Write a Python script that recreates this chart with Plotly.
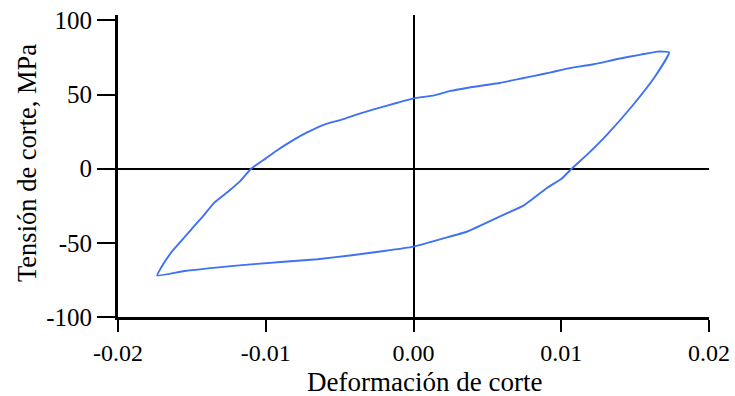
import plotly.graph_objects as go

# Hysteresis loop: shear strain vs shear stress (MPa)
strain = [-0.01735, -0.0171, -0.0164, -0.0157, -0.0150, -0.0142, -0.0135, -0.0125,
          -0.0117, -0.0110, -0.0100, -0.0093, -0.0082, -0.0072, -0.0060, -0.0049,
          -0.0037, -0.0027, -0.0011, 0.0000, 0.0014, 0.0025, 0.0036, 0.0059,
          0.0081, 0.0093, 0.0104, 0.0122, 0.0138, 0.0154, 0.0165, 0.0173,
          0.0163, 0.0149, 0.0131, 0.0118, 0.0107, 0.0100, 0.0091, 0.0075,
          0.0060, 0.0036, 0.0020, 0.0000, -0.0020, -0.0043, -0.0065, -0.0110,
          -0.0155, -0.01735]
stress = [-72.0, -67.0, -56.5, -48.5, -40.5, -31.5, -23.0, -15.0,
          -8.0, 0.0, 7.0, 12.0, 19.0, 24.5, 30.0, 33.0,
          37.0, 40.0, 44.5, 47.5, 49.5, 52.5, 54.5, 58.0,
          62.5, 65.0, 67.5, 70.5, 74.0, 77.0, 79.0, 78.5,
          61.5, 43.5, 23.0, 10.0, 0.0, -7.0, -12.5, -24.5,
          -31.5, -42.5, -47.0, -52.5, -55.5, -58.5, -61.0, -64.5,
          -69.0, -72.0]

x_ticks = [-0.02, -0.01, 0.0, 0.01, 0.02]
x_ticktext = ["-0.02", "-0.01", "0.00", "0.01", "0.02"]
y_ticks = [-100, -50, 0, 50, 100]
y_ticktext = ["-100", "-50", "0", "50", "100"]

x_title = "Deformación de corte"
y_title = "Tensión de corte, MPa"

FONT = "Liberation Serif, Times New Roman, serif"

fig = go.Figure()
fig.add_trace(go.Scatter(x=strain, y=stress, mode="lines",
                         line=dict(color="#3f72f2", width=1.9, shape="spline", smoothing=0.4),
                         showlegend=False, hoverinfo="skip"))

fig.update_layout(
    autosize=True,
    margin=dict(l=118, r=26, t=15, b=78.5, autoexpand=False),
    paper_bgcolor="white", plot_bgcolor="white",
    font=dict(family=FONT, size=25, color="black"),
    xaxis=dict(range=[-0.02, 0.02], tickvals=x_ticks, ticktext=x_ticktext,
               showgrid=False, zeroline=True, zerolinecolor="black", zerolinewidth=1.5,
               showline=True, linecolor="black", linewidth=3,
               ticks="outside", ticklen=12, tickwidth=2, tickcolor="black",
               tickfont=dict(family=FONT, size=24)),
    yaxis=dict(range=[-100, 103.7], tickvals=y_ticks, ticktext=y_ticktext,
               showgrid=False, zeroline=True, zerolinecolor="black", zerolinewidth=1.5,
               showline=True, linecolor="black", linewidth=3,
               ticks="outside", ticklen=18, tickwidth=2, tickcolor="black",
               tickfont=dict(family=FONT, size=25)),
    annotations=[
        dict(text=x_title, xref="paper", yref="paper", x=0.518, y=0, yshift=-65,
             xanchor="center", yanchor="middle", showarrow=False,
             font=dict(family=FONT, size=27)),
        dict(text=y_title, xref="paper", yref="paper", x=0, y=0.51, xshift=-91,
             xanchor="center", yanchor="middle", textangle=-90, showarrow=False,
             font=dict(family=FONT, size=26.5)),
    ],
)

fig.write_html("out.html", config={"responsive": True})
